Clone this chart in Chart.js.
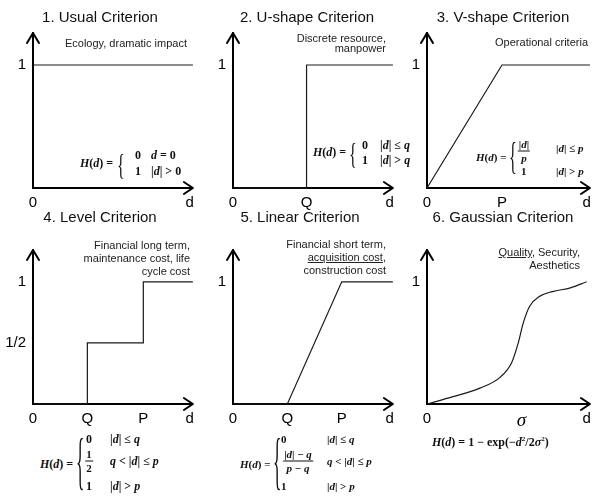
<!DOCTYPE html>
<html><head><meta charset="utf-8">
<script src="https://cdn.jsdelivr.net/npm/chart.js@4.4.0/dist/chart.umd.min.js"></script>
<style>
html,body{margin:0;padding:0;background:#fff;}
#root{position:relative;width:597px;height:500px;overflow:hidden;font-family:"Liberation Sans",Arial,sans-serif;color:#111;}
canvas{position:absolute;}
.t{position:absolute;white-space:nowrap;transform:translate(-50%,-50%);font-size:15px;z-index:2;}
.a{position:absolute;white-space:nowrap;text-align:right;font-size:11px;line-height:13px;z-index:2;color:#222;}
.f{position:absolute;white-space:nowrap;font-family:"Liberation Serif","Times New Roman",serif;font-size:12px;font-weight:bold;transform:translateY(-50%);line-height:1;z-index:2;}
.i{font-style:italic;}
.br{position:absolute;font-family:"Liberation Serif",serif;font-weight:normal;line-height:1;z-index:2;}
.fr{position:absolute;transform:translate(-50%,-50%);text-align:center;font-family:"Liberation Serif",serif;font-size:11px;font-weight:bold;line-height:1;z-index:2;}
.fr .n{display:block;padding:0 1px 1px;border-bottom:1px solid #111;}
.fr .d{display:block;padding-top:1px;}
u{text-decoration:underline;}
</style>
</head>
<body>
<div id="root">
<canvas id="c1" width="200" height="216" style="left:0;top:0"></canvas>
<canvas id="c2" width="200" height="216" style="left:200px;top:0"></canvas>
<canvas id="c3" width="203" height="216" style="left:394px;top:0"></canvas>
<canvas id="c4" width="200" height="216" style="left:0;top:216px"></canvas>
<canvas id="c5" width="200" height="216" style="left:200px;top:216px"></canvas>
<canvas id="c6" width="203" height="216" style="left:394px;top:216px"></canvas>

<div class="t" style="left:100px;top:16px">1. Usual Criterion</div>
<div class="t" style="left:307px;top:16px">2. U-shape Criterion</div>
<div class="t" style="left:503px;top:16px">3. V-shape Criterion</div>
<div class="t" style="left:100px;top:216px">4. Level Criterion</div>
<div class="t" style="left:300px;top:216px">5. Linear Criterion</div>
<div class="t" style="left:503px;top:216px">6. Gaussian Criterion</div>

<div class="a" style="right:410px;top:37px">Ecology, dramatic impact</div>
<div class="a" style="right:211px;top:33px;line-height:10px">Discrete resource,<br>manpower</div>
<div class="a" style="right:9px;top:36px">Operational criteria</div>
<div class="a" style="right:407px;top:239px">Financial long term,<br>maintenance cost, life<br>cycle cost</div>
<div class="a" style="right:211px;top:238px">Financial short term,<br><u>acquisition cost</u>,<br>construction cost</div>
<div class="a" style="right:17px;top:246px;line-height:12.5px"><u>Quality</u>, Security,<br>Aesthetics</div>

<!-- Formula 1 -->
<div class="f" style="left:80px;top:163px"><span class="i">H</span>(<span class="i">d</span>) =</div>
<div class="br" style="left:117px;top:151px;font-size:16px;transform:scale(1,1.8);transform-origin:0 0">{</div>
<div class="f" style="left:135px;top:155px">0</div>
<div class="f" style="left:151px;top:155px"><span class="i">d</span> = 0</div>
<div class="f" style="left:135px;top:171px">1</div>
<div class="f" style="left:151px;top:171px">|<span class="i">d</span>| &gt; 0</div>

<!-- Formula 2 -->
<div class="f" style="left:313px;top:152px"><span class="i">H</span>(<span class="i">d</span>) =</div>
<div class="br" style="left:349px;top:140px;font-size:16px;transform:scale(1,1.8);transform-origin:0 0">{</div>
<div class="f" style="left:362px;top:145px">0</div>
<div class="f" style="left:380px;top:145px">|<span class="i">d</span>| ≤ <span class="i">q</span></div>
<div class="f" style="left:362px;top:160px">1</div>
<div class="f" style="left:380px;top:160px">|<span class="i">d</span>| &gt; <span class="i">q</span></div>

<!-- Formula 3 -->
<div class="f" style="left:476px;top:157px;font-size:11px"><span class="i">H</span>(<span class="i">d</span>) =</div>
<div class="br" style="left:509px;top:138px;font-size:16px;transform:scale(1,2.4);transform-origin:0 0">{</div>
<div class="fr" style="left:524px;top:151px"><span class="n">|<span class="i">d</span>|</span><span class="d i">p</span></div>
<div class="f" style="left:556px;top:148px;font-size:11px">|<span class="i">d</span>| ≤ <span class="i">p</span></div>
<div class="f" style="left:521px;top:171px;font-size:11px">1</div>
<div class="f" style="left:556px;top:171px;font-size:11px">|<span class="i">d</span>| &gt; <span class="i">p</span></div>

<!-- Formula 4 -->
<div class="f" style="left:40px;top:464px"><span class="i">H</span>(<span class="i">d</span>) =</div>
<div class="br" style="left:76px;top:430px;font-size:16px;transform:scale(1.1,4.0);transform-origin:0 0">{</div>
<div class="f" style="left:86px;top:439px">0</div>
<div class="f" style="left:110px;top:439px">|<span class="i">d</span>| ≤ <span class="i">q</span></div>
<div class="fr" style="left:89px;top:461px"><span class="n" style="border:none">1</span><span class="d" style="border-top:1px solid #111">2</span></div>
<div class="f" style="left:110px;top:461px"><span class="i">q</span> &lt; |<span class="i">d</span>| ≤ <span class="i">p</span></div>
<div class="f" style="left:86px;top:486px">1</div>
<div class="f" style="left:110px;top:486px">|<span class="i">d</span>| &gt; <span class="i">p</span></div>

<!-- Formula 5 -->
<div class="f" style="left:240px;top:464px;font-size:11px"><span class="i">H</span>(<span class="i">d</span>) =</div>
<div class="br" style="left:273px;top:430px;font-size:16px;transform:scale(1.1,4.0);transform-origin:0 0">{</div>
<div class="f" style="left:281px;top:439px;font-size:11px">0</div>
<div class="f" style="left:327px;top:439px;font-size:11px">|<span class="i">d</span>| ≤ <span class="i">q</span></div>
<div class="fr" style="left:298px;top:461px"><span class="n">|<span class="i">d</span>| − <span class="i">q</span></span><span class="d"><span class="i">p</span> − <span class="i">q</span></span></div>
<div class="f" style="left:327px;top:461px;font-size:11px"><span class="i">q</span> &lt; |<span class="i">d</span>| ≤ <span class="i">p</span></div>
<div class="f" style="left:281px;top:486px;font-size:11px">1</div>
<div class="f" style="left:327px;top:486px;font-size:11px">|<span class="i">d</span>| &gt; <span class="i">p</span></div>

<!-- Formula 6 -->
<div class="f" style="left:432px;top:442px"><span class="i">H</span>(<span class="i">d</span>) = 1 − exp(−<span class="i">d</span><sup style="font-size:7px">2</sup>/2<span class="i">σ</span><sup style="font-size:7px">2</sup>)</div>
</div>

<script>
// ---- data ----
const usualX = [0, 10];
const usualY = [1, 1];
const ushapeX = [0, 4.6, 4.6, 10];
const ushapeY = [0, 0, 1, 1];
const vshapeX = [0, 4.6, 10];
const vshapeY = [0, 1, 1];
const levelX = [0, 3.4, 3.4, 6.9, 6.9, 10];
const levelY = [0, 0, 0.5, 0.5, 1, 1];
const linearX = [0, 3.4, 6.8, 10];
const linearY = [0, 0, 1, 1];
const gaussX = [0, 1.6, 3.25, 4.5, 5.2, 5.6, 5.9, 6.3, 6.9, 7.7, 8.8, 9.8];
const gaussY = [0, 0.06, 0.13, 0.22, 0.34, 0.5, 0.66, 0.8, 0.88, 0.92, 0.95, 1.0];

const usualTicks = [0, 9.8],           usualLabels = ['0', 'd'];
const ushapeTicks = [0, 4.6, 9.8],     ushapeLabels = ['0', 'Q', 'd'];
const vshapeTicks = [0, 4.6, 9.8],     vshapeLabels = ['0', 'P', 'd'];
const levelTicks = [0, 3.4, 6.9, 9.8], levelLabels = ['0', 'Q', 'P', 'd'];
const linearTicks = [0, 3.4, 6.8, 9.8],linearLabels = ['0', 'Q', 'P', 'd'];
const gaussTicks = [0, 5.8, 9.8],      gaussLabels = ['0', 'σ', 'd'];
const yOneTicks = [1],                 yOneLabels = ['1'];
const yLevelTicks = [0.5, 1],          yLevelLabels = ['1/2', '1'];

Chart.defaults.font.family = '"Liberation Sans", Arial, sans-serif';

const arrowPlugin = {
  id: 'arrows',
  afterDraw(chart) {
    const {ctx, chartArea: {left, top, right, bottom}} = chart;
    ctx.save();
    ctx.strokeStyle = '#000'; ctx.lineWidth = 2; ctx.lineCap = 'round'; ctx.lineJoin = 'round';
    ctx.beginPath();
    ctx.moveTo(left - 6, top + 10); ctx.lineTo(left, top); ctx.lineTo(left + 6, top + 10);
    ctx.moveTo(right - 9, bottom - 6); ctx.lineTo(right, bottom); ctx.lineTo(right - 9, bottom + 6);
    ctx.stroke();
    ctx.restore();
  }
};

function makeChart(id, xs, ys, xt, xl, yt, yl, smooth, padTop) {
  const pts = xs.map((x, i) => ({x: x, y: ys[i]}));
  return new Chart(document.getElementById(id), {
    type: 'line',
    data: {datasets: [{
      data: pts, borderColor: '#1a1a1a', borderWidth: 1.2, pointRadius: 0, fill: false,
      tension: smooth ? 0.4 : 0, cubicInterpolationMode: smooth ? 'monotone' : 'default', clip: false
    }]},
    options: {
      responsive: false, animation: false,
      layout: {padding: {top: padTop, right: 7, left: 0, bottom: 0}},
      plugins: {legend: {display: false}, tooltip: {enabled: false}, title: {display: false}},
      scales: {
        x: {
          type: 'linear', min: 0, max: 10,
          grid: {display: false, drawTicks: false},
          border: {display: true, color: '#000', width: 2},
          afterBuildTicks: s => { s.ticks = xt.map(v => ({value: v})); },
          afterFit: s => { s.height = 28; },
          ticks: {
            autoSkip: false, maxRotation: 0, padding: 6, color: '#000',
            font: c => (c.tick && c.tick.label === 'σ') ? {size: 19, family: '"Liberation Serif", serif', style: 'italic'} : {size: 15},
            callback: (v, i) => xl[i]
          }
        },
        y: {
          type: 'linear', min: 0, max: 1.26,
          grid: {display: false, drawTicks: false},
          border: {display: true, color: '#000', width: 2},
          afterBuildTicks: s => { s.ticks = yt.map(v => ({value: v})); },
          afterFit: s => { s.width = 33; },
          ticks: {autoSkip: false, padding: 7, color: '#000', font: {size: 15}, callback: (v, i) => yl[i]}
        }
      }
    },
    plugins: [arrowPlugin]
  });
}

makeChart('c1', usualX, usualY, usualTicks, usualLabels, yOneTicks, yOneLabels, false, 33);
makeChart('c2', ushapeX, ushapeY, ushapeTicks, ushapeLabels, yOneTicks, yOneLabels, false, 33);
makeChart('c3', vshapeX, vshapeY, vshapeTicks, vshapeLabels, yOneTicks, yOneLabels, false, 33);
makeChart('c4', levelX, levelY, levelTicks, levelLabels, yLevelTicks, yLevelLabels, false, 34);
makeChart('c5', linearX, linearY, linearTicks, linearLabels, yOneTicks, yOneLabels, false, 34);
makeChart('c6', gaussX, gaussY, gaussTicks, gaussLabels, yOneTicks, yOneLabels, true, 34);
</script>
</body></html>
